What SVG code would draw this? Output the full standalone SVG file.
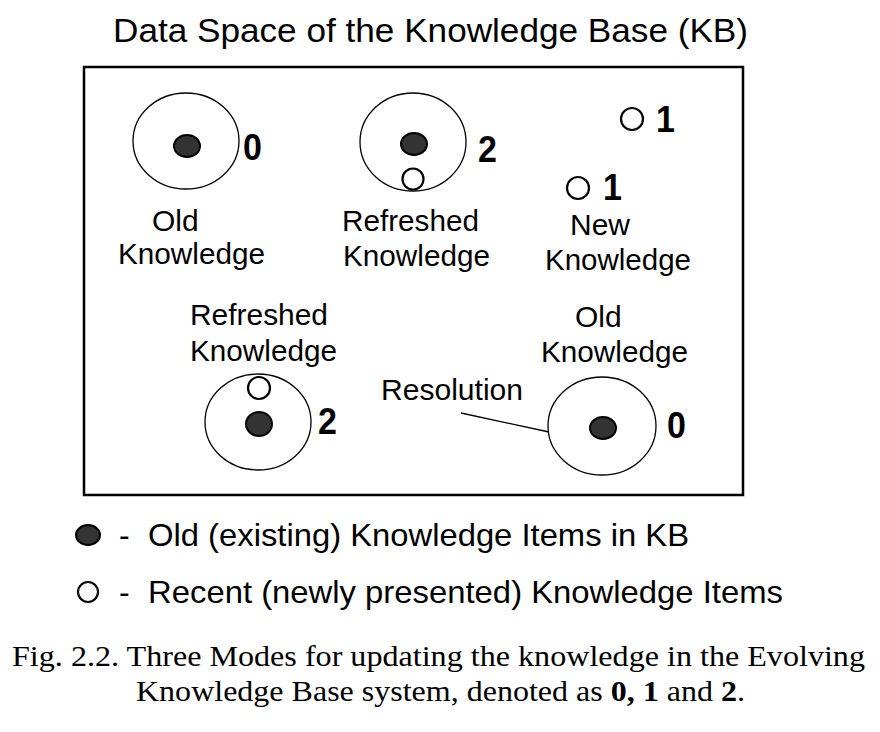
<svg xmlns="http://www.w3.org/2000/svg" width="880" height="732" viewBox="0 0 880 732">
<style>
.t{font-family:"Liberation Sans",Arial,sans-serif;font-size:30px;fill:#000}
.b{font-family:"Liberation Sans",Arial,sans-serif;font-size:34px;font-weight:bold;fill:#000}
.c{font-family:"Liberation Serif","Times New Roman",serif;font-size:29px;fill:#000}
.o{fill:none;stroke:#000;stroke-width:1.3}
.f{fill:#333;stroke:#000;stroke-width:2}
.e{fill:#fff;stroke:#000;stroke-width:2.2}
</style>
<rect width="880" height="732" fill="#fff"/>
<text class="t" x="113" y="42" style="font-size:34px" textLength="635" lengthAdjust="spacingAndGlyphs">Data Space of the Knowledge Base (KB)</text>
<rect x="84" y="67" width="659" height="428" fill="none" stroke="#000" stroke-width="2.5"/>
<g id="old1">
<ellipse class="o" cx="186" cy="141" rx="53" ry="48"/>
<ellipse class="f" cx="187" cy="146" rx="13" ry="11"/>
<text class="b" x="243" y="160" transform="translate(243 160) scale(1 1.08) translate(-243 -160)">0</text>
<text class="t" x="152" y="231">Old</text>
<text class="t" x="118" y="264" textLength="147" lengthAdjust="spacingAndGlyphs">Knowledge</text>
</g>
<g id="refreshed1">
<ellipse class="o" cx="413" cy="142" rx="53" ry="49"/>
<ellipse class="f" cx="414" cy="144" rx="13" ry="11"/>
<circle class="e" cx="413" cy="179" r="10.5"/>
<text class="b" x="478" y="162" transform="translate(478 162) scale(1 1.08) translate(-478 -162)">2</text>
<text class="t" x="342" y="231" textLength="137" lengthAdjust="spacingAndGlyphs">Refreshed</text>
<text class="t" x="343" y="266" textLength="147" lengthAdjust="spacingAndGlyphs">Knowledge</text>
</g>
<g id="new">
<circle class="e" cx="632" cy="119" r="11"/>
<text class="b" x="656" y="132" transform="translate(656 132) scale(1 1.08) translate(-656 -132)">1</text>
<circle class="e" cx="578" cy="188" r="11"/>
<text class="b" x="603" y="200" transform="translate(603 200) scale(1 1.08) translate(-603 -200)">1</text>
<text class="t" x="570" y="235">New</text>
<text class="t" x="545" y="270" textLength="146" lengthAdjust="spacingAndGlyphs">Knowledge</text>
</g>
<g id="refreshed2">
<text class="t" x="190" y="325" textLength="138" lengthAdjust="spacingAndGlyphs">Refreshed</text>
<text class="t" x="190" y="361" textLength="147" lengthAdjust="spacingAndGlyphs">Knowledge</text>
<ellipse class="o" cx="258" cy="422" rx="53" ry="48"/>
<circle class="e" cx="259" cy="388" r="11"/>
<ellipse class="f" cx="259" cy="424" rx="13" ry="12"/>
<text class="b" x="318" y="434" transform="translate(318 434) scale(1 1.08) translate(-318 -434)">2</text>
</g>
<g id="old2">
<text class="t" x="575" y="327">Old</text>
<text class="t" x="541" y="362" textLength="147" lengthAdjust="spacingAndGlyphs">Knowledge</text>
<ellipse class="o" cx="602" cy="426" rx="54" ry="49"/>
<ellipse class="f" cx="603" cy="428" rx="13" ry="11"/>
<text class="b" x="667" y="438" transform="translate(667 438) scale(1 1.08) translate(-667 -438)">0</text>
</g>
<g id="resolution">
<text class="t" x="381" y="400" textLength="142" lengthAdjust="spacingAndGlyphs">Resolution</text>
</g>
<g id="connectors">
<line x1="461" y1="413" x2="549" y2="432" stroke="#000" stroke-width="1.3"/>
</g>
<g id="legend">
<ellipse class="f" cx="88" cy="535" rx="12" ry="10"/>
<text class="t" x="119" y="546" style="font-size:32px">-</text>
<text class="t" x="148" y="546" style="font-size:32px" textLength="541" lengthAdjust="spacingAndGlyphs">Old (existing) Knowledge Items in KB</text>
<circle class="e" cx="88" cy="592" r="10"/>
<text class="t" x="119" y="603" style="font-size:32px">-</text>
<text class="t" x="148" y="603" style="font-size:32px" textLength="635" lengthAdjust="spacingAndGlyphs">Recent (newly presented) Knowledge Items</text>
</g>
<g id="caption">
<text class="c" x="12" y="666" textLength="853" lengthAdjust="spacingAndGlyphs">Fig. 2.2. Three Modes for updating the knowledge in the Evolving</text>
<text class="c" x="136" y="701" textLength="609" lengthAdjust="spacingAndGlyphs">Knowledge Base system, denoted as <tspan font-weight="bold">0, 1</tspan> and <tspan font-weight="bold">2</tspan>.</text>
</g>
</svg>
